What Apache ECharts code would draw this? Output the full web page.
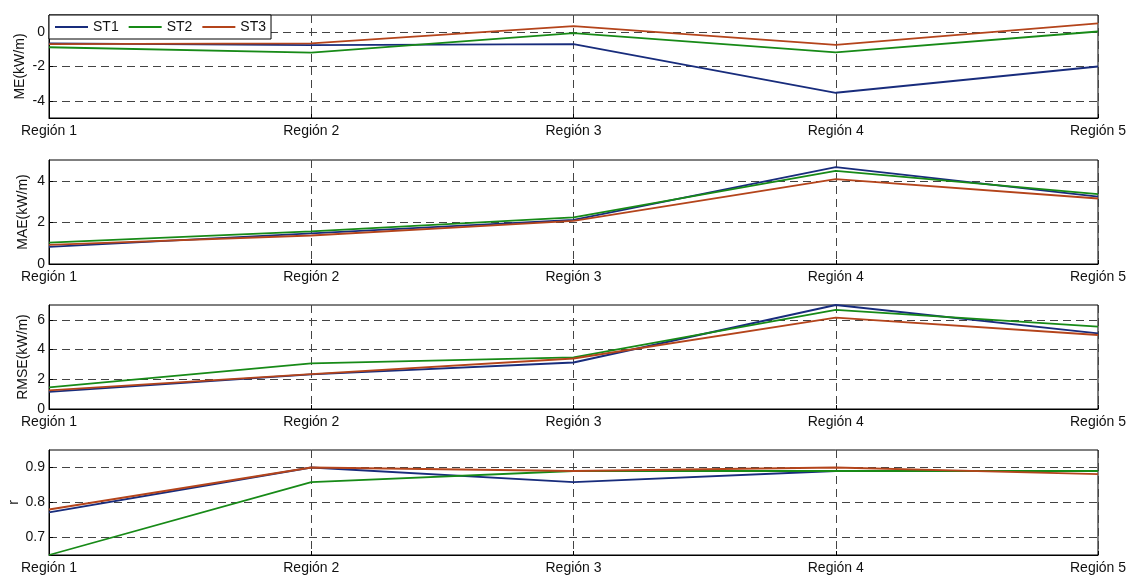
<!DOCTYPE html>
<html>
<head>
<meta charset="utf-8">
<script src="https://cdn.jsdelivr.net/npm/echarts@6/dist/echarts.min.js"></script>
<style>html,body{margin:0;padding:0;background:#fff;}#c{width:1132px;height:576px;}</style>
</head>
<body>
<div id="c"></div>
<script>
const categories = ['Región 1', 'Región 2', 'Región 3', 'Región 4', 'Región 5'];
const seriesNames = ['ST1', 'ST2', 'ST3'];

const meST1 = [-0.65, -0.76, -0.70, -3.53, -2.00];
const meST2 = [-0.88, -1.19, -0.06, -1.18, 0.04];
const meST3 = [-0.70, -0.65, 0.35, -0.74, 0.51];

const maeST1 = [0.82, 1.47, 2.12, 4.66, 3.24];
const maeST2 = [1.03, 1.57, 2.24, 4.48, 3.36];
const maeST3 = [0.92, 1.37, 2.07, 4.08, 3.15];

const rmseST1 = [1.15, 2.33, 3.13, 7.00, 5.09];
const rmseST2 = [1.45, 3.07, 3.47, 6.67, 5.55];
const rmseST3 = [1.25, 2.35, 3.40, 6.15, 4.98];

const rST1 = [0.772, 0.900, 0.858, 0.890, 0.890];
const rST2 = [0.650, 0.858, 0.890, 0.890, 0.890];
const rST3 = [0.780, 0.900, 0.890, 0.900, 0.881];

const meTicks = [-4, -2, 0];
const maeTicks = [0, 2, 4];
const rmseTicks = [0, 2, 4, 6];
const rTicks = [0.7, 0.8, 0.9];

const panelNames = ['ME(kW/m)', 'MAE(kW/m)', 'RMSE(kW/m)', 'r'];
const panelRanges = [[-5, 1], [0, 5], [0, 7], [0.65, 0.95]];
const panelTicks = [meTicks, maeTicks, rmseTicks, rTicks];
const panelData = [
  [meST1, meST2, meST3],
  [maeST1, maeST2, maeST3],
  [rmseST1, rmseST2, rmseST3],
  [rST1, rST2, rST3]
];

const colors = ['#182c7c', '#178a17', '#b4441b'];
const FONT = 'Liberation Sans, Arial, Helvetica, sans-serif';
const gridTops = [15, 160, 305, 450];
const gridHeights = [103, 104, 104, 105];
const nameGaps = [22, 19, 19, 28];

const grids = [], xAxes = [], yAxes = [], series = [];
for (let p = 0; p < 4; p++) {
  grids.push({
    left: 49, right: 34, top: gridTops[p], height: gridHeights[p],
    containLabel: false, outerBoundsMode: 'none',
    show: true, borderColor: '#000', borderWidth: 1, backgroundColor: '#fff'
  });
  xAxes.push({
    type: 'category', gridIndex: p, data: categories, boundaryGap: false,
    axisLine: { show: true, onZero: false, lineStyle: { color: '#000', width: 1 } },
    axisTick: { show: true, inside: true, length: 4, lineStyle: { color: '#000' } },
    axisLabel: { fontSize: 14, color: '#111', fontFamily: FONT, margin: 6, showMinLabel: true, showMaxLabel: true, interval: 0 },
    splitLine: { show: true, lineStyle: { color: '#444', type: [8, 5], width: 1 } }
  });
  yAxes.push({
    type: 'value', gridIndex: p,
    min: panelRanges[p][0], max: panelRanges[p][1],
    name: panelNames[p], nameLocation: 'middle', nameGap: nameGaps[p],
    nameMoveOverlap: false,
    nameTextStyle: { fontSize: 14, color: '#111', fontFamily: FONT },
    axisLine: { show: true, lineStyle: { color: '#000', width: 1 } },
    axisTick: { show: true, inside: true, length: 4, lineStyle: { color: '#000' }, customValues: panelTicks[p] },
    axisLabel: { fontSize: 14, color: '#111', fontFamily: FONT, margin: 4, customValues: panelTicks[p] },
    splitLine: { show: true, lineStyle: { color: '#444', type: [8, 5], width: 1 } }
  });
  for (let s = 0; s < 3; s++) {
    series.push({
      name: seriesNames[s], type: 'line', xAxisIndex: p, yAxisIndex: p,
      data: panelData[p][s], symbol: 'none', showSymbol: false,
      lineStyle: { color: colors[s], width: 1.8 }, itemStyle: { color: colors[s] },
      z: 3
    });
  }
}

const chart = echarts.init(document.getElementById('c'), null, { renderer: 'canvas' });
chart.setOption({
  animation: false,
  backgroundColor: '#fff',
  textStyle: { fontFamily: FONT },
  legend: {
    data: seriesNames, left: 49, top: 15, orient: 'horizontal',
    padding: [5, 5, 5, 6], itemGap: 10, itemWidth: 33, itemHeight: 2,
    icon: 'rect', backgroundColor: '#fff', borderColor: '#000', borderWidth: 1,
    textStyle: { fontSize: 14, color: '#111', fontFamily: FONT, lineHeight: 14 },
    z: 10
  },
  grid: grids, xAxis: xAxes, yAxis: yAxes, series: series
});
</script>
</body>
</html>
